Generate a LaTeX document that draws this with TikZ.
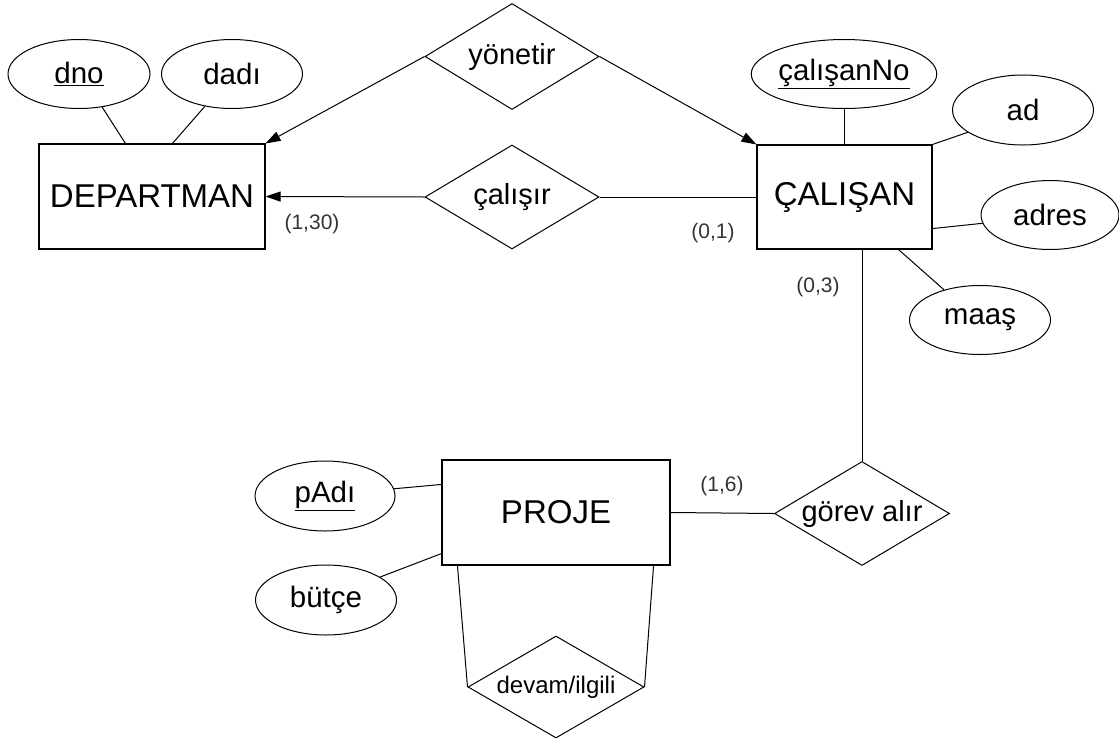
\documentclass[tikz,border=0pt]{standalone}
\usepackage{fontspec}
\setmainfont{Liberation Sans}
\usetikzlibrary{shapes.geometric,arrows.meta,calc}
\tikzset{
  ent/.style={draw, rectangle, inner sep=0pt, line width=1.1pt, font=\fontsize{33}{36}\selectfont},
  attr/.style={draw, ellipse, inner sep=0pt, line width=1pt, font=\fontsize{29.5}{32}\selectfont},
  rel/.style={draw, diamond, inner sep=0pt, aspect=1.7, line width=1pt, font=\fontsize{29}{32}\selectfont},
  card/.style={inner sep=0pt, font=\fontsize{21}{24}\selectfont, text=black!80},
  conn/.style={line width=1pt},
  arr/.style={line width=1pt, -{Triangle[length=15pt,width=10pt]}}
}
\begin{document}
\begin{tikzpicture}[x=1pt,y=-1pt]
\useasboundingbox (0,0) rectangle (1119,742);
% entities
\node[ent, minimum width=226pt, minimum height=105pt] (dep) at (152,196.5) {DEPARTMAN};
\node[ent, minimum width=175pt, minimum height=104pt] (cal) at (844.5,197) {ÇALIŞAN};
\node[ent, minimum width=228pt, minimum height=105pt] (proje) at (556,512.5) {PROJE};
% attributes
\node[attr, minimum width=142pt, minimum height=69pt] (dno) at (79,74) {\underline{dno}};
\node[attr, minimum width=141pt, minimum height=69pt] (dadi) at (232,74) {dadı};
\node[attr, minimum width=140pt, minimum height=69pt] (calno) at (844,74) {\underline{çalışanNo}};
\node[attr, minimum width=141pt, minimum height=70pt] (ad) at (1023,110) {ad};
\node[attr, minimum width=138pt, minimum height=69pt] (adres) at (1050,215) {adres};
\node[attr, minimum width=141pt, minimum height=69pt] (maas) at (980,320) {maaş};
\node[attr, minimum width=140pt, minimum height=70pt] (padi) at (325,496) {\underline{pAdı}};
\node[attr, minimum width=141pt, minimum height=70pt] (butce) at (326,600) {bütçe};
% relationships
\node[rel, minimum width=174pt, minimum height=106pt] (yon) at (512,56.5) {yönetir};
\node[rel, minimum width=174pt, minimum height=104pt] (calisir) at (512,197) {çalışır};
\node[rel, minimum width=175pt, minimum height=104pt] (gorev) at (862,513.5) {görev alır};
\node[rel, minimum width=176pt, minimum height=102pt, font=\fontsize{24}{27}\selectfont] (devam) at (556,687) {devam/ilgili};
% attribute connectors
\draw[conn] (dno.-55) -- ($(dep.north west)+(87,0)$);
\draw[conn] (dadi.-130) -- ($(dep.north west)+(134,0)$);
\draw[conn] (calno.south) -- (calno.south |- cal.north);
\draw[conn] (ad.202) -- (cal.north east);
\draw[conn] (adres.187) -- ($(cal.south east)+(0,-21)$);
\draw[conn] (maas.140) -- ($(cal.south east)+(-34,0)$);
\draw[conn] (padi.6) -- ($(proje.north west)+(0,25)$);
\draw[conn] (butce.23) -- ($(proje.south west)+(0,-12)$);
% relationship connectors
\draw[arr] (yon.west) -- (dep.north east);
\draw[arr] (yon.east) -- (cal.north west);
\draw[arr] (calisir.west) -- (dep.east);
\draw[conn] (calisir.east) -- (cal.west);
\draw[conn] (gorev.north) -- (gorev.north |- cal.south);
\draw[conn] (proje.east) -- (gorev.west);
\draw[conn] ($(proje.south west)+(16,0)$) -- (devam.west);
\draw[conn] ($(proje.south east)+(-17,0)$) -- (devam.east);
% cardinalities
\node[card] (c130) at (312,224) {(1,30)};
\node[card] (c01) at (713,233) {(0,1)};
\node[card] (c03) at (818,287) {(0,3)};
\node[card] (c16) at (722,486) {(1,6)};
\end{tikzpicture}
\end{document}
